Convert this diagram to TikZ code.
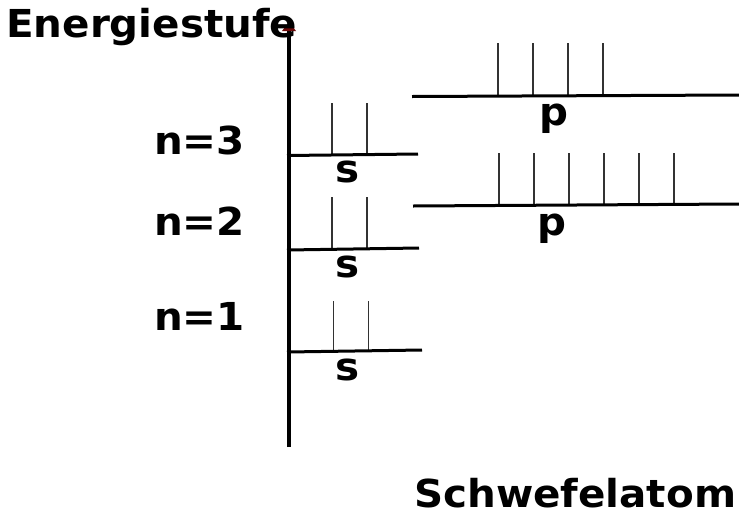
\documentclass[tikz,border=0pt]{standalone}
\usepackage{fontspec}
\setmainfont{DejaVu Sans}
\newfontfamily\labfont{DejaVu Sans Bold}[FakeStretch=1.05]
\usetikzlibrary{arrows.meta}
\definecolor{tipred}{RGB}{110,10,10}
\definecolor{tickgray}{RGB}{50,50,50}
\begin{document}
\begin{tikzpicture}[x=1pt,y=-1pt,
  lab/.style={inner sep=0pt,font=\labfont\fontsize{38.5}{40}\selectfont},
  axisline/.style={line width=4pt,black},
  level/.style={line width=3pt,black},
  slot/.style={line width=1.4pt,tickgray}]
\useasboundingbox (0,0) rectangle (739,512);
% axis
\coordinate (axb) at (289,447);
\coordinate (axt) at (289,30);
\draw[axisline] (axb) -- (axt);
\fill[tipred] (282,31) -- (296,31) -- (289,22) -- cycle;
% texts
\node[lab,anchor=base west] (ytitle) at (6,37) {Energiestufe};
\node[lab,anchor=base west] (xtitle) at (414,507) {Schwefelatom};
\node[lab,anchor=base] (n3) at (199.5,154) {n=3};
\node[lab,anchor=base] (n2) at (199.5,235) {n=2};
\node[lab,anchor=base] (n1) at (199.5,330) {n=1};
\node[lab,anchor=base] (s3) at (348,182) {s};
\node[lab,anchor=base] (s2) at (348,277) {s};
\node[lab,anchor=base] (s1) at (348,380) {s};
\node[lab,anchor=base] (p3) at (554,125) {p};
\node[lab,anchor=base] (p2) at (552,235) {p};
% slots (ticks)
\foreach \x in {333.5,368.5} \draw[slot] (\x,351) -- (\x,301);
\foreach \x in {332,367} \draw[slot] (\x,249) -- (\x,197);
\foreach \x in {332,367} \draw[slot] (\x,155) -- (\x,103);
\foreach \x in {499,534,569,604,639,674} \draw[slot] (\x,205) -- (\x,153);
\foreach \x in {498,533,568,603} \draw[slot] (\x,96) -- (\x,43);
% levels
\draw[level] (287,352) -- (422,350);
\draw[level] (287,250) -- (419,248);
\draw[level] (287,155.5) -- (418,154);
\draw[level] (413,206) -- (739,204);
\draw[level] (412,96.5) -- (739,95);
\end{tikzpicture}
\end{document}
